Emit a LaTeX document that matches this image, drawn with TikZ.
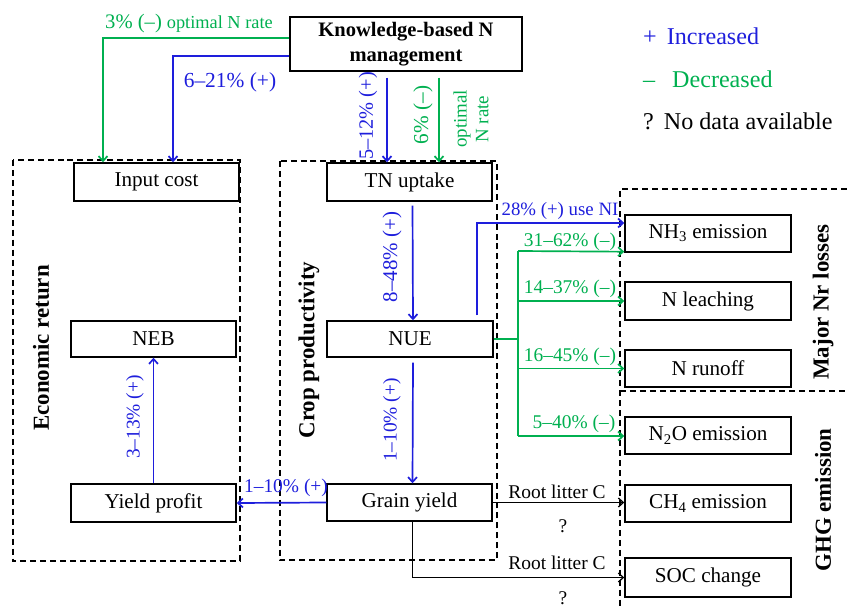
\documentclass[tikz,border=0pt]{standalone}
\usepackage{fontspec}
\setmainfont{Liberation Serif}
\usetikzlibrary{arrows.meta}
\definecolor{cblue}{RGB}{30,30,220}
\definecolor{cgreen}{RGB}{0,176,80}
\begin{document}
\begin{tikzpicture}[x=1bp,y=-1bp,
  box/.style={draw,line width=1.4pt,minimum width=165bp,minimum height=37bp,inner sep=0pt,font=\fontsize{21.2}{24}\selectfont},
  grp/.style={draw,line width=1.4pt,dash pattern=on 6pt off 4pt},
  lbl/.style={inner sep=0pt,font=\fontsize{19.5}{22}\selectfont},
  ttl/.style={inner sep=0pt,rotate=90,font=\fontsize{23}{26}\selectfont\bfseries},
  leg/.style={inner sep=0pt,anchor=west,font=\fontsize{24.2}{27}\selectfont},
  barr/.style={draw=cblue,line width=1.7pt,-{Straight Barb[length=5pt,width=9pt]}},
  garr/.style={draw=cgreen,line width=1.7pt,-{Straight Barb[length=5pt,width=9pt]}},
  karr/.style={draw=black,line width=1.3pt,-{Straight Barb[length=5pt,width=9pt]}}
]
\useasboundingbox (0,0) rectangle (847,608);

% group frames
\draw[grp] (13,160) rectangle (240,561);
\draw[grp] (280,161) rectangle (497,560);
\draw[grp] (847,189) -- (620,189) -- (620,608);
\draw[grp] (620,391) -- (847,391);

% nodes
\node[box,minimum width=232bp,minimum height=54bp,align=center,font=\fontsize{20.6}{25}\selectfont\bfseries] (know) at (406,44) {Knowledge-based N\\management};
\node[box,minimum height=38bp] (input) at (156.5,182) {Input cost};
\node[box,minimum height=36bp] (neb) at (153.5,339) {NEB};
\node[box,minimum height=38bp] (yprofit) at (153.5,503) {Yield profit};
\node[box,minimum height=38bp] (tn) at (409.5,182) {TN uptake};
\node[box,minimum width=166bp,minimum height=36bp] (nue) at (410,339) {NUE};
\node[box] (grain) at (409.5,502.5) {Grain yield};
\node[box,minimum width=166bp] (nh3) at (708,233.5) {NH\textsubscript{3} emission};
\node[box,minimum width=166bp,minimum height=38bp] (leach) at (708,301) {N leaching};
\node[box,minimum width=166bp] (runoff) at (708,368.5) {N runoff};
\node[box,minimum width=166bp] (n2o) at (708,435.5) {N\textsubscript{2}O emission};
\node[box,minimum width=166bp] (ch4) at (708,503.5) {CH\textsubscript{4} emission};
\node[box,minimum width=166bp,minimum height=39bp] (soc) at (708,577.5) {SOC change};

% group titles
\node[ttl] (tecon) at (41,348) {Economic return};
\node[ttl] (tcrop) at (309,350) {Crop productivity};
\node[ttl] (tnr) at (823,302) {Major Nr losses};
\node[ttl] (tghg) at (823,500) {GHG emission};

% legend
\node[leg,text=cblue] (l1) at (643,36) {+\hspace{10pt}Increased};
\node[leg,text=cgreen] (l2) at (643,79) {--\hspace{17pt}Decreased};
\node[leg] (l3) at (643,121) {?\hspace{10pt}No data available};

% knowledge -> input cost
\draw[garr] ([yshift=6bp]know.west) -| ([xshift=-53.5bp]input.north);
\draw[barr] ([yshift=-12bp]know.west) -| ([xshift=16.5bp]input.north);
\node[lbl,text=cgreen,anchor=west] (l3pc) at (105,24) {{\fontsize{20.7}{22}\selectfont 3\% (--)}\hspace{5pt}{\fontsize{18.4}{20}\selectfont optimal N rate}};
\node[lbl,text=cblue,font=\fontsize{21.5}{23}\selectfont] (l621) at (230,82) {6--21\% (+)};

% knowledge -> TN uptake
\draw[barr] ([xshift=-22.5bp,yshift=-6bp]tn.north |- know.south) -- ([xshift=-22.5bp]tn.north);
\draw[garr] ([xshift=29.5bp,yshift=-6bp]tn.north |- know.south) -- ([xshift=29.5bp]tn.north);
\node[lbl,rotate=90,text=cblue,font=\fontsize{20.4}{22}\selectfont] (l512) at (368,116) {5--12\% (+)};
\node[lbl,rotate=90,text=cgreen,font=\fontsize{21.3}{23}\selectfont] (l6pc) at (423,115) {6\% (--)};
\node[lbl,rotate=90,text=cgreen,align=center,font=\fontsize{19}{22}\selectfont] (lopt) at (471,119) {optimal\\N rate};

% crop chain
\draw[barr] ([xshift=3bp,yshift=-4bp]tn.south) -- ([xshift=3bp]nue.north);
\node[lbl,rotate=90,text=cblue,font=\fontsize{21}{23}\selectfont] (l848) at (392,257) {8--48\% (+)};
\draw[barr] ([xshift=3bp,yshift=-5bp]nue.south) -- ([xshift=3bp]grain.north);
\node[lbl,rotate=90,text=cblue] (l110a) at (392,420) {1--10\% (+)};

% economic chain
\draw[barr] (grain.west) -- (yprofit.east);
\node[lbl,text=cblue] (l110b) at (286,488) {1--10\% (+)};
\draw[barr] (yprofit.north) -- (neb.south);
\node[lbl,rotate=90,text=cblue] (l313) at (135,417) {3--13\% (+)};

% NUE -> Nr losses
\draw[barr] ([xshift=67bp,yshift=5bp]nue.north) |- ([yshift=10.5bp]nh3.west);
\node[lbl,text=cblue,font=\fontsize{18.9}{21}\selectfont] (l28) at (560,211) {28\% (+) use NI};
\coordinate (gt) at (518,251);
\coordinate (gb) at (518,436);
\draw[cgreen,line width=1.7pt] (nue.east) -- (nue.east -| gt);
\draw[cgreen,line width=1.7pt] (gt) -- (gb);
\draw[garr] (gt) -- ([yshift=1bp]nh3.south west);
\draw[garr] (gt |- leach.west) -- (leach.west);
\draw[garr] (gt |- runoff.west) -- (runoff.west);
\draw[garr] (gb) -- (gb -| n2o.west);
\node[lbl,text=cgreen] (l3162) at (570,242) {31--62\% (--)};
\node[lbl,text=cgreen] (l1437) at (570,289) {14--37\% (--)};
\node[lbl,text=cgreen] (l1645) at (570,357) {16--45\% (--)};
\node[lbl,text=cgreen] (l540) at (574,424) {5--40\% (--)};

% grain -> GHG
\draw[karr] (grain.east) -- (grain.east -| ch4.west);
\node[lbl] (lrl1) at (557,492) {Root litter C};
\node[lbl] (lq1) at (563,526) {?};
\draw[karr] ([xshift=3bp]grain.south) |- (soc.west);
\node[lbl] (lrl2) at (557,563) {Root litter C};
\node[lbl] (lq2) at (563,598) {?};
\end{tikzpicture}
\end{document}
